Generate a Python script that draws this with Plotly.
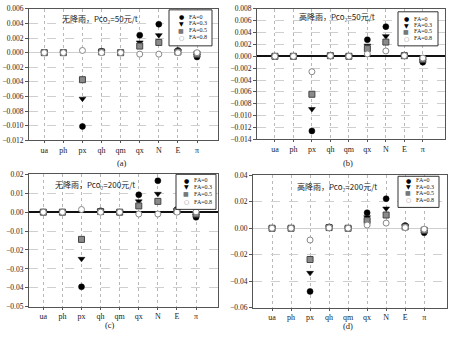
import plotly.graph_objects as go

categories = ["ua", "ph", "px", "qh", "qm", "qx", "N", "E", "π"]
fa_labels = ["FA=0", "FA=0.3", "FA=0.5", "FA=0.8"]

# panel (a): 无降雨, Pco2=50
a_fa0 = [0.0, 0.0, -0.0101, 0.0002, 0.0, 0.0024, 0.0039, 0.0003, -0.0006]
a_fa03 = [0.0, 0.0, -0.0063, 0.0001, 0.0, 0.0014, 0.0024, 0.0002, -0.0004]
a_fa05 = [0.0, 0.0, -0.0037, 0.0001, 0.0, 0.0009, 0.0014, 0.0001, -0.0002]
a_fa08 = [0.0, 0.0, 0.0003, 0.0, 0.0, -0.0002, -0.0002, 0.0, 0.0]
# panel (b): 高降雨, Pco2=50
b_fa0 = [0.0, 0.0, -0.0126, 0.0001, 0.0, 0.0028, 0.0050, 0.0002, -0.0010]
b_fa03 = [0.0, 0.0, -0.0089, 0.0001, 0.0, 0.0018, 0.0034, 0.0001, -0.0007]
b_fa05 = [0.0, 0.0, -0.0064, 0.0001, 0.0, 0.0013, 0.0024, 0.0001, -0.0005]
b_fa08 = [0.0, 0.0, -0.0026, 0.0001, 0.0, 0.0004, 0.0009, 0.0001, -0.0003]
# panel (c): 无降雨, Pco2=200
c_fa0 = [0.0, 0.0, -0.0395, 0.0007, 0.0, 0.0092, 0.0166, 0.0014, -0.0027]
c_fa03 = [0.0, 0.0, -0.0247, 0.0005, 0.0, 0.0057, 0.0097, 0.0010, -0.0020]
c_fa05 = [0.0, 0.0, -0.0144, 0.0003, 0.0, 0.0033, 0.0057, 0.0006, -0.0010]
c_fa08 = [0.0, 0.0, 0.0014, 0.0, 0.0, -0.0010, -0.0010, 0.0, 0.0002]
# panel (d): 高降雨, Pco2=200
d_fa0 = [0.0, 0.0, -0.0477, 0.0010, 0.0, 0.0117, 0.0223, 0.0020, -0.0034]
d_fa03 = [0.0, 0.0, -0.0337, 0.0008, 0.0, 0.0083, 0.0149, 0.0015, -0.0025]
d_fa05 = [0.0, 0.0, -0.0236, 0.0005, 0.0, 0.0058, 0.0100, 0.0010, -0.0015]
d_fa08 = [0.0, 0.0, -0.0089, 0.0003, 0.0, 0.0024, 0.0039, 0.0005, -0.0007]

panel_titles = ["无降雨，Pco₂=50元/t", "高降雨，Pco₂=50元/t",
                "无降雨，Pco₂=200元/t", "高降雨，Pco₂=200元/t"]
captions = ["(a)", "(b)", "(c)", "(d)"]

W, H = 450, 337
def px(x): return x / W
def py(y): return 1 - y / H

styles = [
    dict(symbol="circle", color="black", line=dict(color="black", width=0.5)),
    dict(symbol="triangle-down", color="black", line=dict(color="black", width=0.5)),
    dict(symbol="square", color="#8a8a8a", line=dict(color="#444", width=1)),
    dict(symbol="circle", color="white", line=dict(color="#888", width=1)),
]

panels = [
    dict(data=[a_fa0, a_fa03, a_fa05, a_fa08], xd=(29, 218), yd=(5, 140), xr=(-0.8, 9.1),
         yr=(-0.012, 0.006), dt=0.002, fmt=".3f", zero=False,
         title=(100, 15), cap=(122, 163),
         leg=dict(box=(169, 6, 212, 43), sx=181, tx=187, rows=[13, 20, 27, 34])),
    dict(data=[b_fa0, b_fa03, b_fa05, b_fa08], xd=(257, 445), yd=(5, 139), xr=(-0.97, 9.2),
         yr=(-0.014, 0.008), dt=0.002, fmt=".3f", zero=True,
         title=(337, 13), cap=(348, 163),
         leg=dict(box=(398, 8, 438, 43), sx=406, tx=412, rows=[15, 22, 28, 35])),
    dict(data=[c_fa0, c_fa03, c_fa05, c_fa08], xd=(29, 218), yd=(175, 311), xr=(-0.75, 9.15),
         yr=(-0.05, 0.02), dt=0.01, fmt=".2f", zero=True,
         title=(95, 185), cap=(110, 330),
         leg=dict(box=(176, 175, 216, 211), sx=186, tx=192, rows=[181, 188, 195, 203])),
    dict(data=[d_fa0, d_fa03, d_fa05, d_fa08], xd=(253, 447), yd=(176, 312), xr=(-1.0, 9.2),
         yr=(-0.06, 0.04), dt=0.02, fmt=".2f", zero=False,
         title=(337, 187), cap=(348, 331),
         leg=dict(box=(398, 177, 439, 209), sx=408, tx=414, rows=[181, 188, 194, 201])),
]

fig = go.Figure()
serif = "Liberation Serif"
cjk = "Noto Sans CJK SC"
annotations = []
shapes = []
layout_axes = {}

for i, p in enumerate(panels):
    n = "" if i == 0 else str(i + 1)
    xa, ya = "x" + n, "y" + n
    for j, vals in enumerate(p["data"]):
        st = styles[j]
        fig.add_trace(go.Scatter(
            x=categories, y=vals, mode="markers", xaxis=xa, yaxis=ya,
            name=fa_labels[j], showlegend=False,
            marker=dict(symbol=st["symbol"], color=st["color"], size=6, line=st["line"]),
        ))
    layout_axes["xaxis" + n] = dict(
        domain=[px(p["xd"][0]), px(p["xd"][1])], anchor=ya, type="category",
        range=list(p["xr"]), showgrid=True, gridcolor="#b8b8b8", griddash="dot", gridwidth=1,
        showline=True, linecolor="#555", linewidth=1, mirror=True,
        ticks="outside", ticklen=2, tickcolor="#555",
        tickfont=dict(family=serif, size=8, color="#222"), zeroline=False,
    )
    layout_axes["yaxis" + n] = dict(
        domain=[py(p["yd"][1]), py(p["yd"][0])], anchor=xa,
        range=list(p["yr"]), dtick=p["dt"], tick0=0, tickformat=p["fmt"],
        showgrid=True, gridcolor="#cfcfcf", griddash="dash", gridwidth=1,
        zeroline=True, zerolinecolor="#111" if p["zero"] else "#cfcfcf",
        zerolinewidth=1.6 if p["zero"] else 1,
        showline=True, linecolor="#555", linewidth=1, mirror=True,
        ticks="outside", ticklen=3, tickcolor="#555",
        tickfont=dict(family=serif, size=7.5, color="#222"),
    )
    annotations.append(dict(
        x=px(p["title"][0]), y=py(p["title"][1]), xref="paper", yref="paper",
        text=panel_titles[i], showarrow=False, xanchor="center", yanchor="middle",
        font=dict(family=cjk, size=8, color="#222"),
    ))
    annotations.append(dict(
        x=px(p["cap"][0]), y=py(p["cap"][1]), xref="paper", yref="paper",
        text=captions[i], showarrow=False, xanchor="center", yanchor="middle",
        font=dict(family=serif, size=8.5, color="#222"),
    ))
    lg = p["leg"]
    x0, y0, x1, y1 = lg["box"]
    shapes.append(dict(type="rect", xref="paper", yref="paper",
                       x0=px(x0), x1=px(x1), y0=py(y1), y1=py(y0),
                       line=dict(color="#333", width=1), fillcolor="white"))
    syms = ["●", "▼", "■", "○"]
    cols = ["black", "black", "#777", "#888"]
    for j, ry in enumerate(lg["rows"]):
        annotations.append(dict(
            x=px(lg["sx"]), y=py(ry), xref="paper", yref="paper", text=syms[j],
            showarrow=False, xanchor="center", yanchor="middle",
            font=dict(family="DejaVu Sans", size=6, color=cols[j]),
        ))
        annotations.append(dict(
            x=px(lg["tx"]), y=py(ry), xref="paper", yref="paper", text=fa_labels[j],
            showarrow=False, xanchor="left", yanchor="middle",
            font=dict(family=serif, size=6, color="#222"),
        ))

fig.update_layout(
    width=W, height=H, margin=dict(l=0, r=0, t=0, b=0),
    paper_bgcolor="white", plot_bgcolor="white", showlegend=False,
    annotations=annotations, shapes=shapes, **layout_axes,
)
fig.write_html("out.html")
